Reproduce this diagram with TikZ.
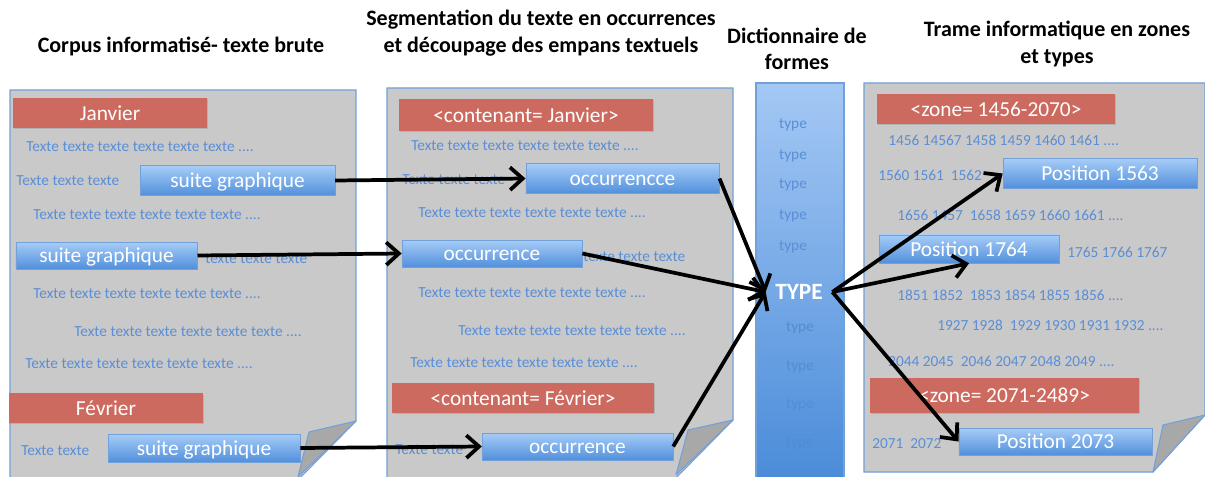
\documentclass[tikz,border=0pt]{standalone}
\usepackage{fontspec}
\setmainfont{Carlito}
\usepackage{tikz}
\usetikzlibrary{arrows.meta,shadows}
\definecolor{pagegray}{HTML}{C9C9C9}
\definecolor{foldgray}{HTML}{A8A8A8}
\definecolor{edgeblue}{HTML}{72A0D8}
\definecolor{zonered}{HTML}{CD6A5F}
\definecolor{txtblue}{HTML}{5A8ED6}
\definecolor{boxtop}{HTML}{A6CCF7}
\definecolor{boxbot}{HTML}{5290DC}
\definecolor{dicttop}{HTML}{A4C8F4}
\definecolor{dictbot}{HTML}{4A8BD9}

\begin{document}
\begin{tikzpicture}[x = .75pt, y = -.75pt,
	page/.style = {fill = pagegray, draw = edgeblue, line width = .8pt},
	fold/.style = {fill = foldgray, draw = edgeblue, line width = .8pt, line join = round},
	title/.style = {font = \fontsize{16.5}{20}\selectfont\bfseries, align = center},
	txt/.style = {text = txtblue, font = \fontsize{11.5}{13}\selectfont, anchor = west, inner sep = 0pt},
	dict/.style = {text = txtblue, font = \fontsize{11.5}{13}\selectfont},
	faded/.style = {text = dictbot!80!black, font = \fontsize{11.5}{13}\selectfont},
	zone/.style = {fill = zonered, text = white, font = \fontsize{16}{18}\selectfont, inner sep = 0pt,
		text height = 11pt, text depth = 0pt,
		drop shadow = {shadow xshift = .7pt, shadow yshift = -.9pt, opacity = .3}},
	item/.style = {top color = boxtop, bottom color = boxbot, draw = edgeblue, line width = .5pt,
		text = white, font = \fontsize{16}{18}\selectfont, inner sep = 0pt,
		text height = 11pt, text depth = 0pt,
		drop shadow = {shadow xshift = .7pt, shadow yshift = -.9pt, opacity = .3}},
	link/.style = {line width = 2.8pt, -{Straight Barb[length = 9.5pt, width = 17pt]}}]
	\useasboundingbox (0,0) rectangle (1205,477);

	% titles
	\node[title] (ttl1) at (181,46) {Corpus informatisé- texte brute};
	\node[title] (ttl2) at (541,33) {Segmentation du texte en occurrences\\et découpage des empans textuels};
	\node[title] (ttl3) at (797,49) {Dictionnaire de\\formes};
	\node[title] (ttl4) at (1057,44) {Trame informatique en zones\\et types};

	% pages
	\draw[page] (10,90) -- (356,90) -- (356,421) -- (298,480) -- (10,480) -- cycle;
	\draw[fold] (356,421) -- (309,432) -- (298,477) -- cycle;
	\draw[page] (387,88) -- (733,88) -- (733,420) -- (676,478) -- (387,478) -- cycle;
	\draw[fold] (733,420) -- (688,430) -- (676,475) -- cycle;
	\draw[top color = dicttop, bottom color = dictbot, draw = edgeblue, line width = .8pt] (756,83) rectangle (844,482);
	\draw[page] (864,83) -- (1205,83) -- (1205,415) -- (1153,472) -- (864,472) -- cycle;
	\draw[fold] (1205,415) -- (1163,425) -- (1153,472) -- cycle;

	% raw text
	\node[txt] (a1) at (26,147) {Texte texte texte texte texte texte ....};
	\node[txt] (a2) at (16,181) {Texte texte texte};
	\node[txt] (a3) at (33,215) {Texte texte texte texte texte texte ....};
	\node[txt] (a4) at (205,259) {texte texte texte};
	\node[txt] (a5) at (33,294) {Texte texte texte texte texte texte ....};
	\node[txt] (a6) at (74,332) {Texte texte texte texte texte texte ....};
	\node[txt] (a7) at (25,364) {Texte texte texte texte texte texte ....};
	\node[txt] (a8) at (21,451) {Texte texte};

	\node[txt] (b1) at (411,146) {Texte texte texte texte texte texte ....};
	\node[txt] (b2) at (402,180) {Texte texte texte};
	\node[txt] (b3) at (418,213) {Texte texte texte texte texte texte ....};
	\node[txt] (b4) at (583,257) {texte texte texte};
	\node[txt] (b5) at (418,293) {Texte texte texte texte texte texte ....};
	\node[txt] (b6) at (458,331) {Texte texte texte texte texte texte ....};
	\node[txt] (b7) at (410,363) {Texte texte texte texte texte texte ....};
	\node[txt] (b8) at (395,450) {Texte texte};

	\node[dict] (d1) at (793,125) {type};
	\node[dict] (d2) at (793,156) {type};
	\node[dict] (d3) at (793,185) {type};
	\node[dict] (d4) at (793,216) {type};
	\node[dict] (d5) at (793,247) {type};
	\node[faded, text opacity = .45] (d6) at (800,328) {type};
	\node[faded, text opacity = .35] (d7) at (800,367) {type};
	\node[faded, text opacity = .25] (d8) at (800,405) {type};
	\node[faded, text opacity = .15] (d9) at (800,443) {type};
	\node[text = white, font = \fontsize{17.5}{20}\selectfont\bfseries, inner sep = 7pt] (type) at (799,292) {TYPE};

	\node[txt] (n1) at (888,140) {1456 14567 1458 1459 1460 1461 ....};
	\node[txt] (n2) at (878,175) {1560 1561 \ 1562};
	\node[txt] (n3) at (897,215) {1656 1457 \ 1658 1659 1660 1661 ....};
	\node[txt] (n4) at (1067,252) {1765 1766 1767};
	\node[txt] (n5) at (897,295) {1851 1852 \ 1853 1854 1855 1856 ....};
	\node[txt] (n6) at (937,325) {1927 1928 \ 1929 1930 1931 1932 ....};
	\node[txt] (n7) at (888,361) {2044 2045 \ 2046 2047 2048 2049 ....};
	\node[txt] (n8) at (872,444) {2071 \ 2072};

	% zones
	\node[zone, minimum width = 145.5pt, minimum height = 22.5pt] (jan) at (110,113) {Janvier};
	\node[zone, minimum width = 145pt, minimum height = 22pt] (fev) at (106,408) {Février};
	\node[zone, minimum width = 191pt, minimum height = 24pt] (cjan) at (526,115) {<contenant= Janvier>};
	\node[zone, minimum width = 196pt, minimum height = 22.5pt] (cfev) at (523,398) {<contenant= Février>};
	\node[zone, minimum width = 178.5pt, minimum height = 22.5pt] (z1) at (996,109) {<zone= 1456-2070>};
	\node[zone, minimum width = 202pt, minimum height = 26pt] (z2) at (1004.5,395.5) {<zone= 2071-2489>};

	% segments
	\node[item, minimum width = 146pt, minimum height = 22pt] (sg1) at (237.5,180.5) {suite graphique};
	\node[item, minimum width = 136pt, minimum height = 20pt] (sg2) at (106.5,255.5) {suite graphique};
	\node[item, minimum width = 144pt, minimum height = 21pt] (sg3) at (204,448) {suite graphique};
	\node[item, minimum width = 145pt, minimum height = 22pt] (oc1) at (622.5,178.5) {occurrencce};
	\node[item, minimum width = 135pt, minimum height = 20pt] (oc2) at (492,253.5) {occurrence};
	\node[item, minimum width = 143pt, minimum height = 20pt] (oc3) at (577.5,446.5) {occurrence};
	\node[item, minimum width = 145.5pt, minimum height = 22pt] (p1) at (1100,173.5) {Position 1563};
	\node[item, minimum width = 135pt, minimum height = 21pt] (p2) at (969,249) {Position 1764};
	\node[item, minimum width = 145pt, minimum height = 20pt] (p3) at (1055.5,441.5) {Position 2073};

	% arrows
	\draw[link] (sg1.east) -- (oc1.west);
	\draw[link] (sg2.east) -- (oc2.west);
	\draw[link] (sg3.east) -- (oc3.west);
	\draw[link] (oc1.east) -- (type.west);
	\draw[link] (oc2.east) -- (type.west);
	\draw[link] (oc3.east) -- (type.west);
	\draw[link] (type.east) -- (p1.west);
	\draw[link] (type.east) -- (p2.south);
	\draw[link] (type.east) -- (p3.west);
\end{tikzpicture}
\end{document}
